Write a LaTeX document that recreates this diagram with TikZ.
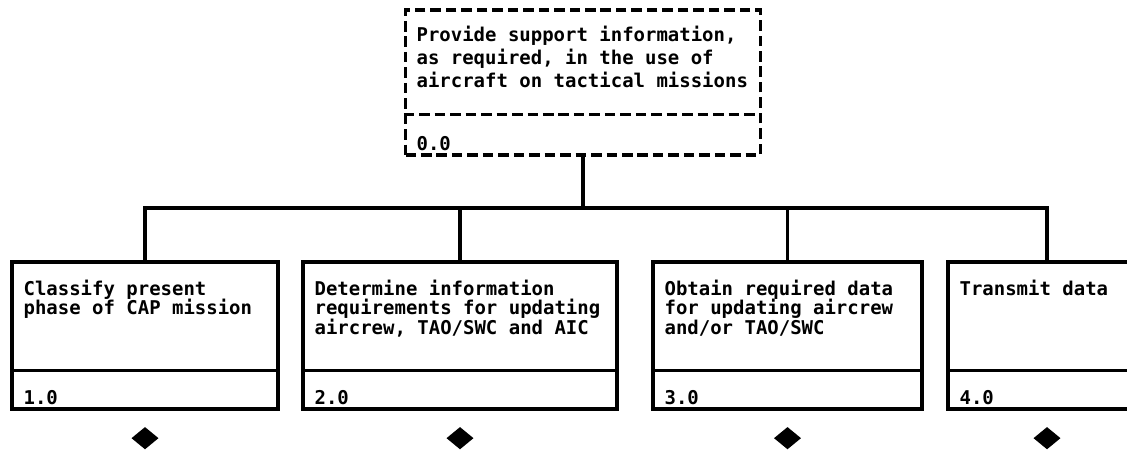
\documentclass[tikz,border=0pt]{standalone}
\usepackage{fontspec}
\setmonofont{DejaVu Sans Mono}
\usetikzlibrary{positioning,shapes.geometric,calc}

\begin{document}
\begin{tikzpicture}[
  font=\ttfamily\bfseries\fontsize{13.5}{14.2}\selectfont,
  task/.style={draw, line width=2.4pt, inner sep=0pt, minimum height=3.675cm},
  topbox/.style={task, dash pattern=on 7.5pt off 3.5pt,
                 minimum width=8.875cm, minimum height=3.625cm},
  txt/.style={anchor=north west, inner sep=0pt, align=left},
  num/.style={anchor=south west, inner sep=0pt},
  link/.style={line width=2.4pt},
  offpage/.style={diamond, fill=black, inner sep=0pt,
                  minimum width=0.68cm, minimum height=0.56cm},
]
\useasboundingbox (0,0) rectangle (28.175,-11.225);

% top function (dashed)
\node[topbox] (t0) at (14.575,-2.0625) {};
\draw[link, dash pattern=on 7.5pt off 3.5pt]
  ($(t0.south west)+(0,1.05)$) -- ($(t0.south east)+(0,1.05)$);
\node[txt, font=\ttfamily\bfseries\fontsize{13.5}{16.4}\selectfont] (t0txt)
  at ($(t0.north west)+(0.3125,-0.425)$)
  {Provide support information,\\as required, in the use of\\aircraft on tactical missions};
\node[num] (t0num) at ($(t0.south west)+(0.3125,0.15)$) {0.0};

% sub functions
\node[task, minimum width=6.65cm]  (b1) at (3.625,-8.3875) {};
\node[task, minimum width=7.85cm]  (b2) at (11.5,-8.3875) {};
\node[task, minimum width=6.725cm] (b3) at (19.6875,-8.3875) {};
\node[task, minimum width=4.95cm]  (b4) at (26.175,-8.3875) {};

\draw[link] ($(b1.south west)+(0,1)$) -- ($(b1.south east)+(0,1)$);
\draw[link] ($(b2.south west)+(0,1)$) -- ($(b2.south east)+(0,1)$);
\draw[link] ($(b3.south west)+(0,1)$) -- ($(b3.south east)+(0,1)$);
\draw[link] ($(b4.south west)+(0,1)$) -- ($(b4.south east)+(0,1)$);

\node[txt] (b1txt) at ($(b1.north west)+(0.325,-0.475)$)
  {Classify present\\phase of CAP mission};
\node[txt] (b2txt) at ($(b2.north west)+(0.325,-0.475)$)
  {Determine information\\requirements for updating\\aircrew, TAO/SWC and AIC};
\node[txt] (b3txt) at ($(b3.north west)+(0.325,-0.475)$)
  {Obtain required data\\for updating aircrew\\and/or TAO/SWC};
\node[txt] (b4txt) at ($(b4.north west)+(0.325,-0.475)$)
  {Transmit data};

\node[num] (b1num) at ($(b1.south west)+(0.325,0.15)$) {1.0};
\node[num] (b2num) at ($(b2.south west)+(0.325,0.15)$) {2.0};
\node[num] (b3num) at ($(b3.south west)+(0.325,0.15)$) {3.0};
\node[num] (b4num) at ($(b4.south west)+(0.325,0.15)$) {4.0};

% tree connectors
\coordinate (hub) at (14.575,-5.2);
\draw[link] (t0.south) -- (hub);
\draw[link] (b1.north) |- (hub) -| (b4.north);
\draw[link] (b2.north) -- (b2.north |- hub);
\draw[link] (b3.north) -- (b3.north |- hub);

% off-page markers
\node[offpage, below=0.4cm of b1] (a1) {};
\node[offpage, below=0.4cm of b2] (a2) {};
\node[offpage, below=0.4cm of b3] (a3) {};
\node[offpage, below=0.4cm of b4] (a4) {};
\end{tikzpicture}
\end{document}
